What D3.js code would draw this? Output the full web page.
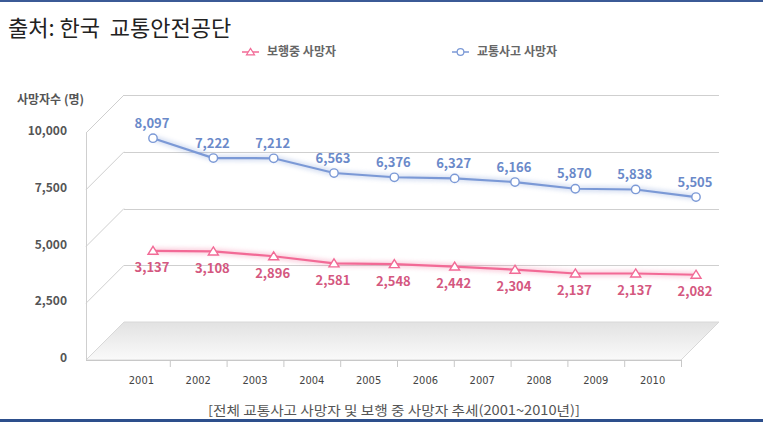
<!DOCTYPE html>
<html>
<head>
<meta charset="utf-8">
<script src="https://cdn.jsdelivr.net/npm/d3@7"></script>
<style>
  html, body { margin: 0; padding: 0; background: #fff; }
  svg { display: block; }
  text { font-family: "Noto Sans CJK KR", "Noto Sans", sans-serif; }
</style>
</head>
<body>
<script>
// Data
const years = ["2001", "2002", "2003", "2004", "2005", "2006", "2007", "2008", "2009", "2010"];
const totalDeaths = [8097, 7222, 7212, 6563, 6376, 6327, 6166, 5870, 5838, 5505];
const pedestrianDeaths = [3137, 3108, 2896, 2581, 2548, 2442, 2304, 2137, 2137, 2082];
const yTicks = [0, 2500, 5000, 7500, 10000];
const seriesNames = ["보행중 사망자", "교통사고 사망자"];

const width = 763, height = 422;
const blue = "#7b99d6", blueText = "#6a89c9";
const pink = "#f26a96", pinkText = "#d4587f";

const svg = d3.select("body").append("svg")
    .attr("width", width)
    .attr("height", height);

const defs = svg.append("defs");
defs.append("filter").attr("id", "glow")
    .attr("x", "-10%").attr("y", "-50%").attr("width", "120%").attr("height", "200%")
  .append("feGaussianBlur").attr("stdDeviation", 2);

const floorGrad = defs.append("linearGradient").attr("id", "floor")
    .attr("x1", 0).attr("y1", 0).attr("x2", 0).attr("y2", 1);
floorGrad.append("stop").attr("offset", "0%").attr("stop-color", "#e2e2e2");
floorGrad.append("stop").attr("offset", "100%").attr("stop-color", "#fafafa");

// Borders
svg.append("rect").attr("x", 0).attr("y", 0).attr("width", width).attr("height", 2).attr("fill", "#3b5a96");
svg.append("rect").attr("x", 0).attr("y", 419).attr("width", width).attr("height", 3).attr("fill", "#2d4f8c");

// Title
svg.append("text")
    .attr("x", 8).attr("y", 36)
    .attr("font-size", 22)
    .attr("fill", "#222")
    .style("white-space", "pre")
    .text("출처: 한국  교통안전공단");

// 3D geometry: front plane and back plane
const depthX = 38;
const yFront = d3.scaleLinear().domain([0, 10000]).range([360, 133]);
const yBack = d3.scaleLinear().domain([0, 10000]).range([322, 95]);
const xBand = d3.scaleBand().domain(years).range([113, 681]);
const xPoint = d3.scalePoint().domain(years).range([153, 696]);
const frontLeft = 86, backLeft = frontLeft + depthX, backRight = 719, frontRight = backRight - depthX;

// Floor
const floorPts = [[backLeft, yBack(0)], [backRight, yBack(0)], [frontRight, yFront(0)], [frontLeft, yFront(0)]];
svg.append("path")
    .attr("d", d3.line()(floorPts) + "Z")
    .attr("fill", "url(#floor)")
    .attr("stroke", "#d8d8d8")
    .attr("stroke-width", 1);

// Grid: back horizontal lines and left-wall slants
const grid = svg.append("g").attr("stroke", "#cfcfcf").attr("stroke-width", 1).attr("fill", "none");
grid.selectAll(".back").data(yTicks.filter(d => d > 0)).join("line")
    .attr("x1", backLeft).attr("x2", backRight)
    .attr("y1", d => Math.round(yBack(d)) + 0.5).attr("y2", d => Math.round(yBack(d)) + 0.5);
grid.selectAll(".slant").data(yTicks.filter(d => d > 0)).join("line")
    .attr("x1", frontLeft).attr("x2", backLeft)
    .attr("y1", d => yFront(d)).attr("y2", d => yBack(d));
grid.append("line")
    .attr("x1", frontLeft + 0.5).attr("x2", frontLeft + 0.5)
    .attr("y1", yFront(10000)).attr("y2", yFront(0));
grid.append("line")
    .attr("x1", frontLeft).attr("x2", frontRight)
    .attr("y1", yFront(0) + 0.5).attr("y2", yFront(0) + 0.5)
    .attr("stroke", "#c8c8c8");

// Category ticks at bottom
svg.append("g").selectAll("line").data(years).join("line")
    .attr("x1", d => xBand(d) + xBand.bandwidth() + 0.5)
    .attr("x2", d => xBand(d) + xBand.bandwidth() + 0.5)
    .attr("y1", yFront(0)).attr("y2", yFront(0) + 7)
    .attr("stroke", "#c8c8c8");

svg.append("g").selectAll("text").data(years).join("text")
    .attr("x", d => xBand(d) + xBand.bandwidth() / 2)
    .attr("y", 384)
    .attr("text-anchor", "middle")
    .attr("font-size", 11)
    .attr("fill", "#444")
    .style("font-family", "'Liberation Sans Narrow', 'DejaVu Sans Condensed', sans-serif")
    .text(d => d);

// Y tick labels
svg.append("g").selectAll("text").data(yTicks).join("text")
    .attr("x", 67)
    .attr("y", d => yFront(d) - 2)
    .attr("dy", "0.35em")
    .attr("text-anchor", "end")
    .attr("font-size", 12)
    .attr("font-weight", "bold")
    .attr("fill", "#555")
    .text(d => d3.format(",")(d));

svg.append("text")
    .attr("x", 17).attr("y", 104)
    .attr("font-size", 12)
    .attr("font-weight", "bold")
    .attr("fill", "#555")
    .text("사망자수 (명)");

// Lines
const line = d3.line()
    .x((d, i) => xPoint(years[i]))
    .y(d => yBack(d));

function drawSeries(values, color, labelColor, marker, labelOffset) {
    const g = svg.append("g");
    g.append("path")
        .attr("d", line(values))
        .attr("fill", "none")
        .attr("stroke", color)
        .attr("stroke-width", 6)
        .attr("opacity", 0.3)
        .attr("filter", "url(#glow)");
    g.append("path")
        .attr("d", line(values))
        .attr("fill", "none")
        .attr("stroke", color)
        .attr("stroke-width", 2.2);
    g.selectAll(".m").data(values).join("path")
        .attr("transform", (d, i) => `translate(${xPoint(years[i])},${yBack(d)})`)
        .attr("d", marker)
        .attr("fill", "#fff")
        .attr("stroke", color)
        .attr("stroke-width", 1.4);
    g.selectAll("text").data(values).join("text")
        .attr("x", (d, i) => xPoint(years[i]) - 1)
        .attr("y", d => yBack(d) + labelOffset)
        .attr("dy", "0.35em")
        .attr("text-anchor", "middle")
        .attr("font-size", 13)
        .attr("font-weight", "bold")
        .attr("fill", labelColor)
        .text(d => d3.format(",")(d));
}

const circleMarker = d3.symbol(d3.symbolCircle, 55)();
const triMarker = "M0,-4.5L5,3.5L-5,3.5Z";

drawSeries(totalDeaths, blue, blueText, circleMarker, -15);
drawSeries(pedestrianDeaths, pink, pinkText, triMarker, 17);

// Legend
const legendItems = [
    { name: seriesNames[0], color: pink, marker: triMarker, x: 242 },
    { name: seriesNames[1], color: blue, marker: circleMarker, x: 452 }
];
const legend = svg.append("g").selectAll("g").data(legendItems).join("g")
    .attr("transform", d => `translate(${d.x},52)`);
legend.append("line")
    .attr("x1", 0).attr("x2", 17).attr("y1", 0).attr("y2", 0)
    .attr("stroke", d => d.color).attr("stroke-width", 1.5);
legend.append("path")
    .attr("transform", "translate(8.5,0) scale(0.8)")
    .attr("d", d => d.marker)
    .attr("fill", "#fff")
    .attr("stroke", d => d.color)
    .attr("stroke-width", 1.5);
legend.append("text")
    .attr("x", 25).attr("y", 0)
    .attr("dy", "0.35em")
    .attr("font-size", 12)
    .attr("font-weight", "bold")
    .attr("fill", "#666")
    .text(d => d.name);

// Caption
svg.append("text")
    .attr("x", 394).attr("y", 415)
    .attr("text-anchor", "middle")
    .attr("font-size", 13)
    .attr("fill", "#555")
    .attr("textLength", 372)
    .attr("lengthAdjust", "spacingAndGlyphs")
    .text("[전체 교통사고 사망자 및 보행 중 사망자 추세(2001~2010년)]");
</script>
</body>
</html>
